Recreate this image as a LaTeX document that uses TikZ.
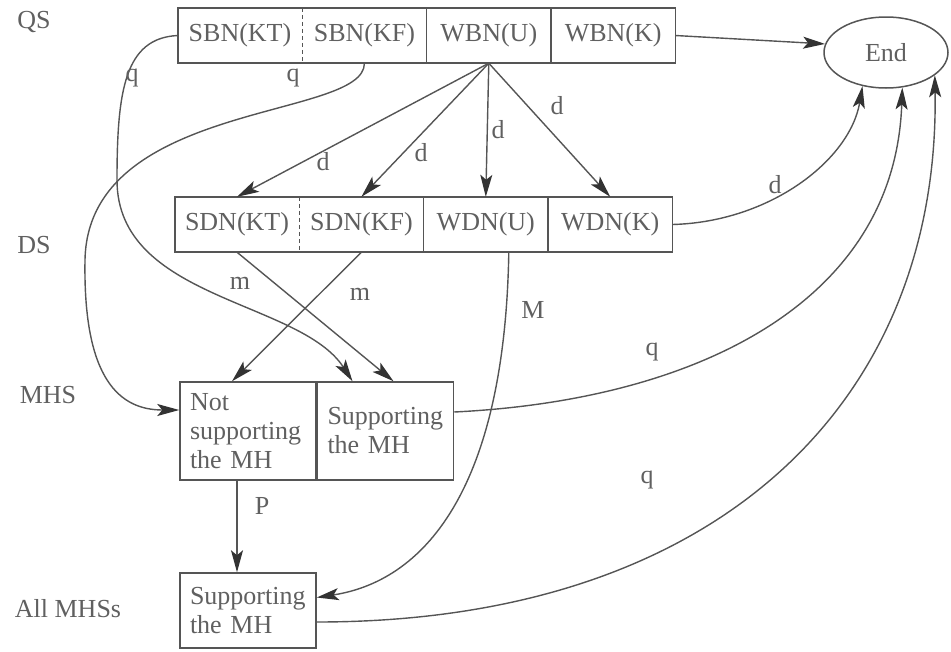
\documentclass[tikz,border=0pt]{standalone}
\usepackage{fontspec}
\setmainfont{Liberation Serif}
\usetikzlibrary{arrows.meta,positioning,shapes.geometric,calc}
\definecolor{ink}{HTML}{606060}
\definecolor{lineink}{HTML}{555555}
\definecolor{tipink}{HTML}{333333}

\begin{document}
\begin{tikzpicture}[x=1pt,y=-1pt,>={Stealth[length=22pt,width=12pt,inset=5pt,color=tipink]},
  every node/.style={text=ink,font=\fontsize{26}{29}\selectfont},
  cell/.style={minimum width=124pt,minimum height=55pt,inner sep=0pt},
  mhbox/.style={draw=lineink,line width=1.5pt,minimum height=98pt,text width=116pt,
    inner xsep=10pt,inner ysep=0pt,align=left},
  conn/.style={draw=lineink,line width=1.4pt}]
\useasboundingbox (0,0) rectangle (951,651);

% row names
\node (lqs) at (34,22) {QS};
\node (lds) at (34,245) {DS};
\node (lmhs) at (48,395) {MHS};
\node (lall) at (68,609) {All MHSs};

% QS row
\node[cell] (sbnkt) at (240,35.5) {SBN(KT)};
\node[cell,right=0pt of sbnkt] (sbnkf) {SBN(KF)};
\node[cell,right=0pt of sbnkf] (wbnu) {WBN(U)};
\node[cell,right=0pt of wbnu] (wbnk) {WBN(K)};
\draw[conn,line width=1.5pt] (sbnkt.north west) rectangle (wbnk.south east);
\draw[conn,dash pattern=on 4pt off 3pt] (sbnkt.north east) -- (sbnkt.south east);
\draw[conn] (sbnkf.north east) -- (sbnkf.south east);
\draw[conn] (wbnu.north east) -- (wbnu.south east);

\node[draw=lineink,line width=1.5pt,ellipse,minimum width=124pt,minimum height=71pt,
  inner sep=0pt] (fin) at (886,52.5) {End};

% DS row
\node[cell] (sdnkt) at (237,224.5) {SDN(KT)};
\node[cell,right=0pt of sdnkt] (sdnkf) {SDN(KF)};
\node[cell,right=0pt of sdnkf] (wdnu) {WDN(U)};
\node[cell,right=0pt of wdnu] (wdnk) {WDN(K)};
\draw[conn,line width=1.5pt] (sdnkt.north west) rectangle (wdnk.south east);
\draw[conn,dash pattern=on 4pt off 3pt] (sdnkt.north east) -- (sdnkt.south east);
\draw[conn] (sdnkf.north east) -- (sdnkf.south east);
\draw[conn] (wdnu.north east) -- (wdnu.south east);

% MHS row
\node[mhbox] (nsup) at (248,431) {Not\\supporting\\the MH};
\node[mhbox,right=0pt of nsup] (sup) {Supporting\\the MH};
\node[mhbox,minimum height=75pt] (all) at (248,610.5) {Supporting\\the MH};

% QS -> End, QS -> DS
\draw[conn,->] (wbnk.east) -- (fin.172);
\draw[conn,->] (wbnu.south) -- (sdnkt.north);
\draw[conn,->] (wbnu.south) -- (sdnkf.north);
\draw[conn,->] (wbnu.south) -- (wdnu.north);
\draw[conn,->] (wbnu.south) -- (wdnk.north);
\node (d1) at (323,162) {d};
\node (d2) at (421,153) {d};
\node (d3) at (498,130) {d};
\node (d4) at (557,106) {d};

% QS -> MHS
\draw[conn,->] (sbnkt.west) .. controls (125,38) and (117,90) .. (117,180)
  .. controls (117,300) and (300,300) .. ($(sup.north)+(-33,0)$);
\draw[conn,->] (sbnkf.south) .. controls (365,120) and (88,100) .. (85,260)
  .. controls (83,380) and (120,410) .. ($(nsup.west)+(0,-21)$);
\node (q1) at (132,78) {q};
\node (q2) at (293,78) {q};

% DS -> MHS
\draw[conn,->] (sdnkt.south) -- ($(sup.north)+(8,0)$);
\draw[conn,->] (sdnkf.south) -- ($(nsup.north)+(-16,0)$);
\node (m1) at (240,283) {m};
\node (m2) at (360,294) {m};
\draw[conn,->] ($(wdnu.south)+(23,0)$) .. controls (505,480) and (430,580) .. ($(all.east)+(0,-13)$);
\node (m3) at (533,310) {M};

% MHS -> All MHSs
\draw[conn,->] ($(nsup.south)+(-11,0)$) -- ($(all.north)+(-11,0)$);
\node (p1) at (262,506) {P};

% -> End
\draw[conn,->] (wdnk.east) .. controls (770,222) and (850,160) .. (fin.-125);
\node (d5) at (775,185) {d};
\draw[conn,->] ($(sup.east)+(0,-19)$) .. controls (700,400) and (895,300) .. (fin.-65);
\node (q3) at (652,352) {q};
\draw[conn,->] ($(all.east)+(0,11.5)$) .. controls (720,622) and (940,400) .. (fin.-25);
\node (q4) at (647,480) {q};
\end{tikzpicture}
\end{document}
